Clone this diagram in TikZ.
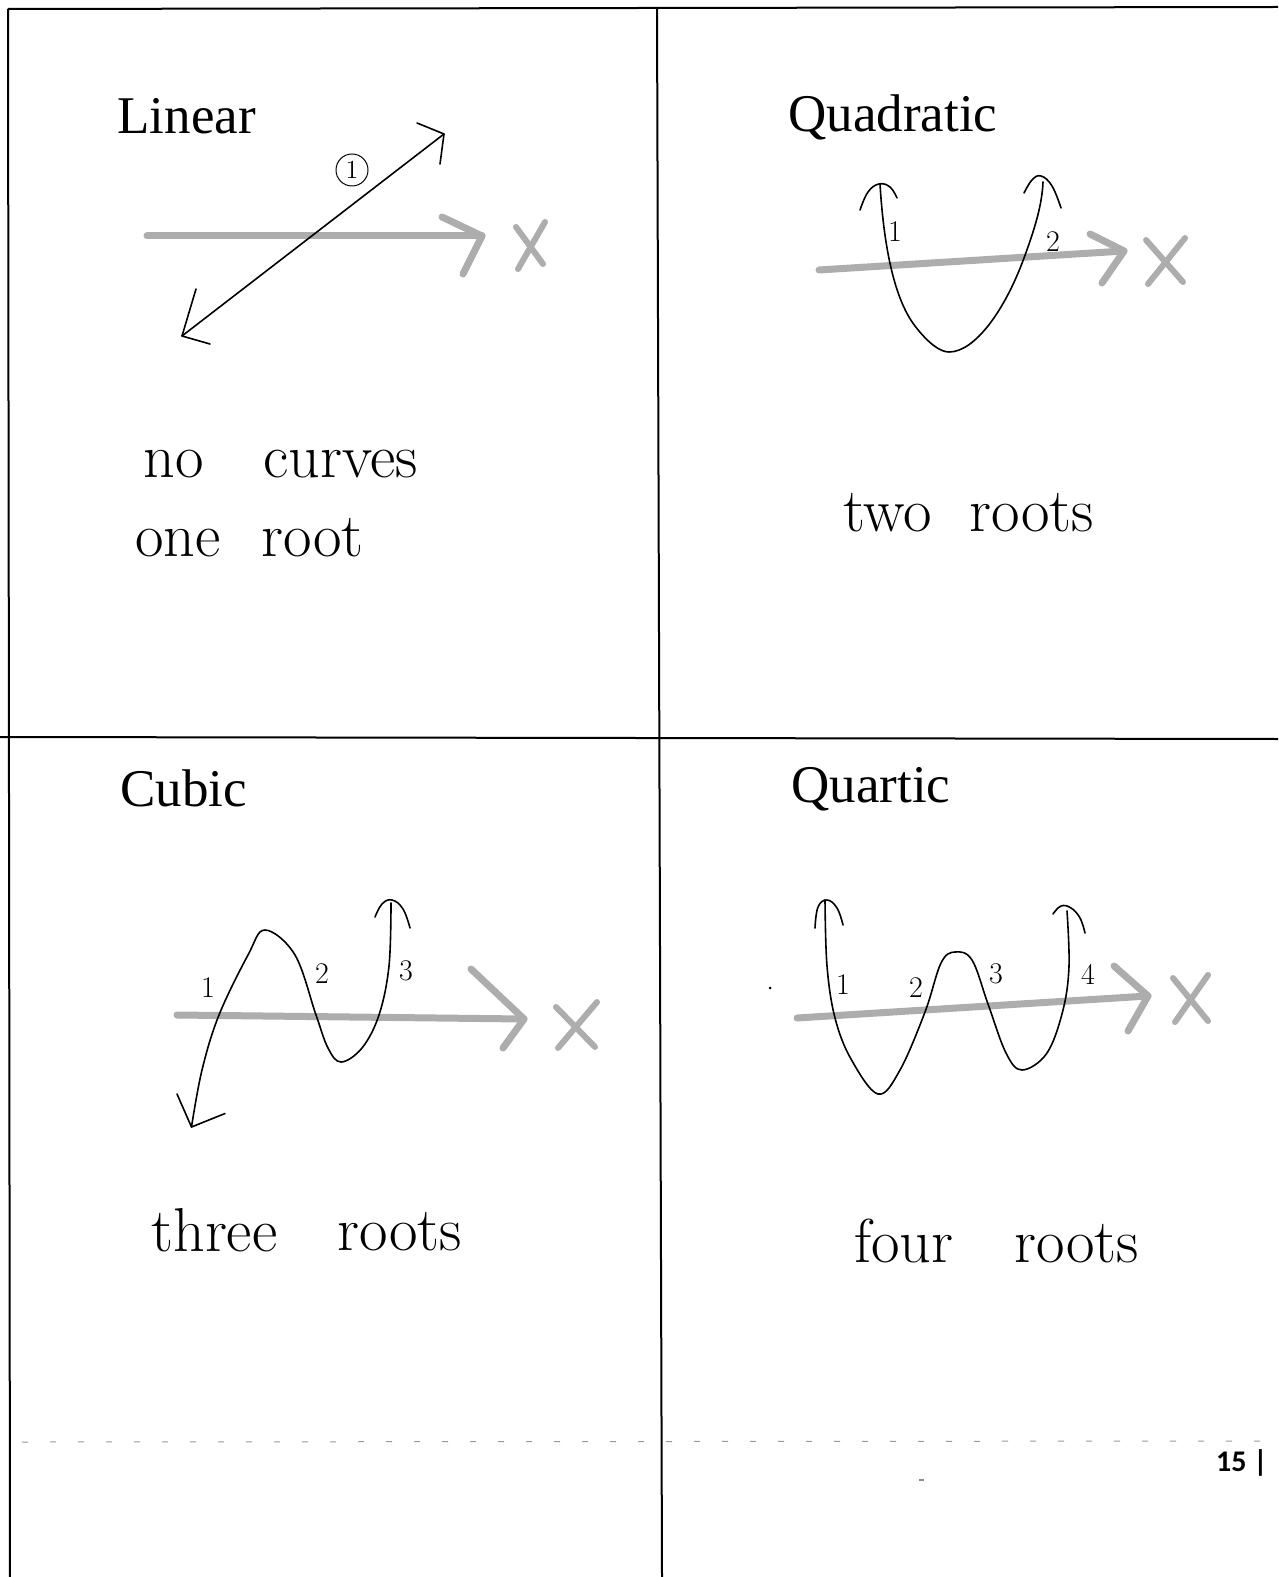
\documentclass[tikz,border=0pt]{standalone}
\usepackage{fontspec}
\newfontfamily\titlefont{Liberation Serif}
\newfontfamily\pagefont{Carlito}
\begin{document}
\begin{tikzpicture}[x=0.5pt,y=-0.5pt,
  frame/.style={line width=1pt, black},
  axis/.style={line width=3.5pt, black!32, line cap=round, line join=round},
  xmark/.style={line width=3pt, black!32, line cap=round},
  pen/.style={line width=0.8pt, black, line cap=round, line join=round},
  title/.style={font=\titlefont\fontsize{26.5}{30}\selectfont, anchor=base west, inner sep=0pt},
  hand/.style={font=\fontsize{31}{36}\selectfont, anchor=base west, inner sep=0pt},
  num/.style={font=\fontsize{15}{15}\selectfont, inner sep=0pt}]
\fill[white] (0,0) rectangle (1278,1577);
\useasboundingbox (0,0) rectangle (1278,1577);
% frame
\draw[frame] (8,9) -- (1278,7);
\draw[frame] (8,9) -- (10,1577);
\draw[frame] (657,8) -- (662,1577);
\draw[frame] (0,737) -- (1278,739);
\draw[black!40, line width=0.5pt, dash pattern=on 3pt off 11pt] (22,1442) -- (1278,1441);
\draw[black!45, line width=0.6pt] (919,1480) -- (924,1480);
% titles
\node[title] (tlin) at (117,134) {Linear};
\node[title] (tquad) at (788,132) {Quadratic};
\node[title] (tcub) at (120,806) {Cubic};
\node[title] (tquar) at (791,802) {Quartic};
% ===== Linear =====
\draw[axis] (147,236) -- (482,236);
\draw[axis] (442,217) -- (482,236) -- (463,274);
\draw[xmark] (516,227) -- (543,264);
\draw[xmark] (545,222) -- (518,269);
\coordinate (la) at (182,336);
\coordinate (lb) at (444,134);
\draw[pen] (la) -- (lb);
\draw[pen] (417,123) -- (lb) -- (440,164);
\draw[pen] (196,289) -- (la) -- (210,344);
\node[draw, circle, line width=0.5pt, minimum size=16pt, inner sep=0pt, font=\fontsize{13}{13}\selectfont] (c1) at (352,170) {1};
\node[hand] (w1) at (143,477) {no};
\node[hand] (w2) at (263,477) {curves};
\node[hand] (w3) at (135,556) {one};
\node[hand] (w4) at (261,556) {root};
% ===== Quadratic =====
\draw[axis] (819,270) -- (1124,251);
\draw[axis] (1090,234) -- (1124,251) -- (1102,283);
\draw[xmark] (1146,240) -- (1183,282);
\draw[xmark] (1185,238) -- (1148,284);
\draw[pen] (880,184) .. controls (884,250) and (895,300) .. (915,326)
  .. controls (928,343) and (940,352) .. (949,352)
  .. controls (975,352) and (1005,310) .. (1024,258)
  .. controls (1035,228) and (1042,205) .. (1043,182);
\draw[pen] plot[smooth, tension=0.7] coordinates {(860,210) (868,192) (879,184) (890,187) (897,198)};
\draw[pen] plot[smooth, tension=0.7] coordinates {(1024,193) (1032,180) (1041,176) (1052,186) (1061,208)};
\node[num] (q1) at (895,232) {1};
\node[num] (q2) at (1053,242) {2};
\node[hand] (w5) at (843,531) {two};
\node[hand] (w6) at (969,531) {roots};
% ===== Cubic =====
\draw[axis] (177,1015) -- (524,1019);
\draw[axis] (471,969) -- (524,1019) -- (503,1048);
\draw[xmark] (556,1007) -- (595,1047);
\draw[xmark] (597,1002) -- (558,1048);
\draw[pen] plot[smooth, tension=0.6] coordinates {(191.5,1127) (202,1070) (219,1015) (248,955) (265,930) (295,955) (316,1015) (328,1048) (341,1062) (362,1048) (379,1015) (389,966) (391,903)};
\draw[pen] (177,1094) -- (191.5,1127) -- (225,1113.5);
\draw[pen] plot[smooth, tension=0.7] coordinates {(375,917) (382,904) (392,900) (403,909) (410,928)};
\node[num] (cu1) at (208,988) {1};
\node[num] (cu2) at (322,974) {2};
\node[num] (cu3) at (406,971) {3};
\node[hand] (w7) at (151,1251) {three};
\node[hand] (w8) at (337,1250) {roots};
% ===== Quartic =====
\draw[axis] (797,1018) -- (1148,996);
\draw[axis] (1114,966) -- (1148,996) -- (1128,1031);
\draw[xmark] (1173,978) -- (1208,1021);
\draw[xmark] (1208,975) -- (1175,1022);
\draw[pen] plot[smooth, tension=0.6] coordinates {(825,900) (827,966) (835,1018) (851,1059) (878,1094) (900,1070) (925,1012) (941,963) (955,952) (972,960) (988,1004) (1006,1053) (1022,1070) (1047,1053) (1063,1010) (1069,966) (1067,911)};
\draw[pen] plot[smooth, tension=0.7] coordinates {(815,928) (818,907) (827,900) (837,908) (843,925)};
\draw[pen] plot[smooth, tension=0.7] coordinates {(1053,914) (1061,906) (1071,908) (1080,918) (1085,933)};
\fill (770,988) circle (1.5);
\node[num] (qa1) at (843,985) {1};
\node[num] (qa2) at (916,988) {2};
\node[num] (qa3) at (996,974) {3};
\node[num] (qa4) at (1088,974) {4};
\node[hand] (w9) at (854,1262) {four};
\node[hand] (w10) at (1014,1262) {roots};
% page number
\node[font=\pagefont\bfseries\fontsize{15}{15}\selectfont, anchor=base east, inner sep=0pt] (pg) at (1268,1471) {15 |};
\end{tikzpicture}
\end{document}
